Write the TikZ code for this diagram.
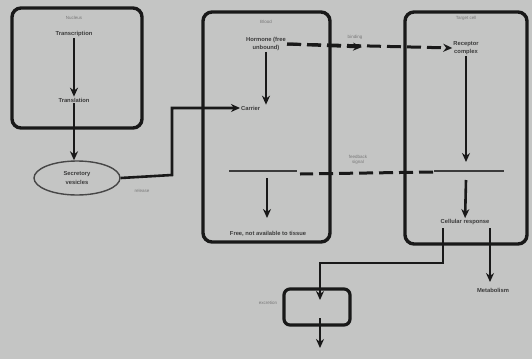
\documentclass[tikz,border=0pt]{standalone}
\usepackage{fontspec}
\setmainfont{Liberation Sans}
\usetikzlibrary{arrows.meta,shapes.geometric}
\definecolor{bg}{RGB}{196,197,196}
\definecolor{ink}{RGB}{25,25,25}
\definecolor{faint}{RGB}{120,120,120}
\tikzset{
  x=1pt,y=-1pt,
  panel/.style={draw=ink,line width=3.4pt,rounded corners=9pt},
  lbl/.style={font=\fontsize{5.8}{6.8}\selectfont\bfseries,text=ink!85,inner sep=1pt,align=center},
  ttl/.style={font=\fontsize{4.5}{5}\selectfont,text=faint,inner sep=1pt},
  note/.style={font=\fontsize{4.5}{5.5}\selectfont,text=faint,inner sep=1pt,align=center},
  flow/.style={draw=ink,line width=2.6pt,-{Stealth[length=9pt,width=8pt]}},
  plain/.style={draw=ink,line width=2.6pt},
  dashline/.style={draw=ink,line width=3pt,dash pattern=on 14pt off 6pt},
}
\begin{document}
\begin{tikzpicture}
\fill[bg] (0,0) rectangle (532,359);
\useasboundingbox (0,0) rectangle (532,359);

% Panel 1
\draw[panel] (12,8) rectangle (142,128);
\node[ttl] (t1) at (74,18) {Nucleus};
\node[lbl] (a1) at (74,34) {Transcription};
\node[lbl] (a2) at (74,100) {Translation};
\node[draw=ink!80,line width=1.4pt,ellipse,minimum width=86pt,minimum height=34pt,lbl,align=center] (ves) at (77,178) {Secretory\\[2pt]vesicles};
\node[note] (exo) at (142,191) {release};
\draw[flow] (a1) -- (a2);
\draw[flow] (a2.south) -- (a2.south |- ves.north);

% Panel 2
\draw[panel] (203,12) rectangle (330,242);
\node[ttl] (t2) at (266,22) {Blood};
\node[lbl] (b1) at (266,44) {Hormone (free\\[1pt]unbound)};
\node[lbl,anchor=west] (b2) at (240,108) {Carrier};
\node[lbl,anchor=west] (b3) at (228,172) {\rule[0.6ex]{68pt}{2.4pt}};
\node[lbl] (b4) at (268,234) {Free, not available to tissue};
\coordinate (j1) at (172,175);
\draw[flow] (ves.east) -- (j1) |- (b2.west);
\draw[flow] (b1.south) -- (b1.south |- b2.north);
\draw[flow] (267,178) -- (267,218);

% Panel 3
\draw[panel] (405,12) rectangle (527,244);
\node[ttl] (t3) at (466,18) {Target cell};
\node[lbl] (c1) at (466,48) {Receptor\\[1pt]complex};
\node[lbl,anchor=west] (c2) at (433,172) {\rule[0.6ex]{70pt}{2.4pt}};
\node[lbl] (c3) at (465,222) {Cellular response};
\node[lbl] (c4) at (493,290) {Metabolism};
\draw[flow] (c1) -- (466,162);
\draw[flow] (466,180) -- (c3);
\draw[flow] (490,228) -- (490,282);

% dashed links
\draw[dashline,-{Stealth[length=9pt,width=8pt]}] (b1.east) -- (c1.west);
\draw[dashline,-{Stealth[length=9pt,width=8pt]}] (b1.east) -- (362,47);
\node[note] (n1) at (355,37) {binding};
\draw[dashline] (c2.west) -- (300,174);
\node[note] (n2) at (358,160) {feedback\\signal};

% Panel 4
\node[draw=ink,line width=3.2pt,rounded corners=6pt,minimum width=66pt,minimum height=36pt] (d1) at (317,307) {};
\node[note] (n3) at (268,303) {excretion};
\coordinate (k1) at (443,263);
\draw[plain] (443,228) -- (k1) -| (320,290);
\draw[flow] (320,266) -- (320,300);
\draw[flow] (320,318) -- (320,348);
\end{tikzpicture}
\end{document}
